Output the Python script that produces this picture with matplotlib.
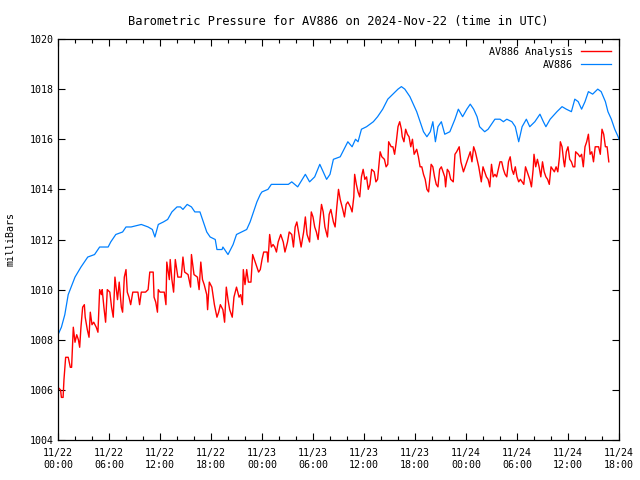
import pandas as pd
import matplotlib
matplotlib.use("Agg")
import matplotlib.pyplot as plt
import matplotlib.dates as mdates

# hours after 2024-11-22 00:00 UTC, pressure in mbar
station_hours = [0.0, 0.4, 0.8, 1.2, 2.0, 2.7, 3.5, 4.3, 4.9, 5.9, 6.2, 6.8, 7.6, 8.0, 8.6, 9.8, 10.6, 11.1,
                 11.4, 11.8, 12.4, 12.9, 13.4, 14.0, 14.4, 14.7, 15.2, 15.7, 16.1, 16.7, 17.1, 17.5, 17.9,
                 18.5, 18.7, 19.3, 19.4, 20.0, 20.6, 21.0, 21.6, 22.2, 22.6, 23.0, 23.4, 23.8, 24.0, 24.7,
                 25.1, 26.3, 27.1, 27.5, 28.2, 29.1, 29.6, 30.2, 30.8, 31.6, 32.0, 32.4, 33.2, 33.5, 34.1,
                 34.6, 35.0, 35.3, 35.7, 36.3, 37.1, 37.6, 38.2, 38.8, 39.4, 40.0, 40.4, 40.8, 41.4, 41.8,
                 42.2, 42.6, 43.0, 43.4, 43.8, 44.1, 44.4, 44.7, 45.1, 45.5, 46.1, 46.7, 47.1, 47.6, 48.1,
                 48.5, 48.9, 49.3, 49.6, 50.2, 50.6, 51.4, 52.0, 52.4, 52.8, 53.4, 53.8, 54.2, 54.6, 55.1,
                 55.5, 56.1, 56.7, 57.1, 57.4, 57.9, 58.7, 59.3, 59.8, 60.4, 60.8, 61.2, 61.6, 62.0, 62.4,
                 62.9, 63.5, 63.9, 64.4, 64.7, 65.1, 65.5, 65.9, 66.0]
station_mbar = [1008.2, 1008.5, 1009.0, 1009.8, 1010.5, 1010.9, 1011.3, 1011.4, 1011.7, 1011.7, 1011.9,
                1012.2, 1012.3, 1012.5, 1012.5, 1012.6, 1012.5, 1012.4, 1012.1, 1012.6, 1012.7, 1012.8,
                1013.1, 1013.3, 1013.3, 1013.2, 1013.4, 1013.3, 1013.1, 1013.1, 1012.7, 1012.3, 1012.1,
                1012.0, 1011.6, 1011.6, 1011.7, 1011.4, 1011.8, 1012.2, 1012.3, 1012.4, 1012.7, 1013.1,
                1013.5, 1013.8, 1013.9, 1014.0, 1014.2, 1014.2, 1014.2, 1014.3, 1014.1, 1014.6, 1014.3,
                1014.5, 1015.0, 1014.4, 1014.6, 1015.2, 1015.3, 1015.5, 1015.9, 1015.7, 1016.0, 1015.9,
                1016.4, 1016.5, 1016.7, 1016.9, 1017.2, 1017.6, 1017.8, 1018.0, 1018.1, 1018.0, 1017.7,
                1017.4, 1017.1, 1016.7, 1016.3, 1016.1, 1016.3, 1016.7, 1015.9, 1016.5, 1016.7, 1016.2,
                1016.3, 1016.8, 1017.2, 1016.9, 1017.2, 1017.4, 1017.2, 1016.9, 1016.5, 1016.3, 1016.4,
                1016.8, 1016.8, 1016.7, 1016.8, 1016.7, 1016.5, 1015.9, 1016.5, 1016.8, 1016.5, 1016.7,
                1017.0, 1016.7, 1016.5, 1016.8, 1017.1, 1017.3, 1017.2, 1017.1, 1017.6, 1017.5, 1017.2,
                1017.5, 1017.9, 1017.8, 1018.0, 1017.9, 1017.5, 1017.1, 1016.8, 1016.4, 1016.1, 1016.0]

analysis_hours = [0.0, 0.3, 0.4, 0.6, 0.7, 0.9, 1.2, 1.45, 1.6, 1.8, 2.0, 2.2, 2.4, 2.55, 2.7, 2.9, 3.1, 3.2,
                  3.45, 3.65, 3.8, 4.0, 4.2, 4.5, 4.7, 4.8, 4.9, 5.1, 5.2, 5.4, 5.6, 5.8, 6.1, 6.3, 6.5, 6.7,
                  7.0, 7.2, 7.45, 7.6, 7.8, 8.0, 8.15, 8.35, 8.55, 8.8, 9.1, 9.4, 9.6, 9.8, 10.3, 10.6, 10.8,
                  11.2, 11.3, 11.5, 11.7, 11.8, 12.0, 12.5, 12.7, 12.8, 13.1, 13.2, 13.4, 13.6, 13.8, 14.1,
                  14.5, 14.7, 14.9, 15.3, 15.6, 15.7, 16.0, 16.4, 16.6, 16.8, 17.0, 17.2, 17.5, 17.6, 17.8,
                  18.1, 18.4, 18.7, 18.9, 19.1, 19.4, 19.6, 19.8, 20.0, 20.2, 20.5, 20.7, 21.0, 21.3, 21.5,
                  21.7, 21.8, 22.0, 22.2, 22.4, 22.7, 22.9, 23.2, 23.4, 23.6, 23.8, 24.0, 24.2, 24.6, 24.7,
                  24.9, 25.1, 25.3, 25.5, 25.7, 25.9, 26.2, 26.5, 26.7, 27.0, 27.2, 27.5, 27.7, 27.9, 28.1,
                  28.3, 28.6, 28.9, 29.1, 29.3, 29.6, 29.8, 30.0, 30.2, 30.4, 30.6, 30.8, 31.0, 31.2, 31.4,
                  31.7, 31.9, 32.1, 32.4, 32.6, 32.8, 33.0, 33.2, 33.5, 33.7, 33.9, 34.1, 34.4, 34.6, 34.8,
                  34.9, 35.1, 35.3, 35.5, 35.7, 35.9, 36.1, 36.3, 36.5, 36.7, 36.9, 37.2, 37.4, 37.6, 37.9,
                  38.1, 38.4, 38.6, 38.8, 38.9, 39.2, 39.4, 39.6, 39.8, 40.0, 40.2, 40.4, 40.5, 40.7, 40.9,
                  41.1, 41.3, 41.5, 41.7, 41.9, 42.2, 42.4, 42.6, 42.8, 43.0, 43.2, 43.4, 43.6, 43.9, 44.1,
                  44.3, 44.5, 44.7, 44.9, 45.1, 45.3, 45.5, 45.6, 45.8, 46.0, 46.2, 46.5, 46.7, 46.9, 47.2,
                  47.4, 47.7, 47.9, 48.2, 48.5, 48.7, 48.9, 49.1, 49.3, 49.5, 49.6, 49.8, 50.0, 50.2, 50.4,
                  50.6, 50.8, 51.0, 51.2, 51.4, 51.6, 51.8, 52.0, 52.2, 52.4, 52.6, 52.8, 53.0, 53.2, 53.4,
                  53.6, 53.8, 54.0, 54.2, 54.4, 54.6, 54.8, 55.0, 55.2, 55.4, 55.5, 55.7, 55.9, 56.0, 56.2,
                  56.4, 56.6, 56.8, 57.0, 57.2, 57.4, 57.6, 57.8, 58.0, 58.2, 58.4, 58.6, 58.8, 59.0, 59.1,
                  59.3, 59.5, 59.6, 59.8, 60.0, 60.2, 60.4, 60.6, 60.8, 60.9, 61.2, 61.4, 61.6, 61.8, 62.0,
                  62.2, 62.4, 62.6, 62.8, 63.0, 63.2, 63.6, 63.8, 64.0, 64.2, 64.4, 64.6, 64.8]
analysis_mbar = [1006.1, 1006.0, 1005.7, 1005.7, 1006.4, 1007.3, 1007.3, 1006.9, 1006.9, 1008.5, 1007.9,
                 1008.2, 1008.0, 1007.7, 1008.5, 1009.3, 1009.4, 1008.9, 1008.4, 1008.1, 1009.1, 1008.6,
                 1008.7, 1008.5, 1008.3, 1009.1, 1010.0, 1009.8, 1010.0, 1009.3, 1008.7, 1010.0, 1009.9,
                 1009.3, 1008.9, 1010.5, 1009.6, 1010.3, 1009.3, 1009.1, 1010.5, 1010.8, 1009.9, 1009.7,
                 1009.4, 1009.9, 1009.9, 1009.9, 1009.4, 1009.9, 1009.9, 1010.0, 1010.7, 1010.7, 1009.7,
                 1009.5, 1009.1, 1010.0, 1009.9, 1009.9, 1009.4, 1011.1, 1010.4, 1011.2, 1010.4, 1009.9,
                 1011.2, 1010.5, 1010.5, 1011.3, 1010.7, 1010.6, 1010.1, 1011.4, 1010.6, 1010.5, 1010.0,
                 1011.1, 1010.4, 1010.2, 1009.8, 1009.2, 1010.3, 1010.1, 1009.4, 1008.9, 1009.1, 1009.4,
                 1009.2, 1008.7, 1010.1, 1009.6, 1009.2, 1008.9, 1009.7, 1010.1, 1009.7, 1009.8, 1009.4,
                 1010.8, 1010.2, 1010.8, 1010.3, 1010.3, 1011.4, 1011.1, 1010.9, 1010.7, 1010.8, 1011.2,
                 1011.5, 1011.5, 1011.1, 1012.2, 1011.7, 1011.8, 1011.7, 1011.5, 1011.9, 1012.2, 1011.9,
                 1011.5, 1011.9, 1012.3, 1012.2, 1011.7, 1012.5, 1012.7, 1012.3, 1011.7, 1012.3, 1012.9,
                 1012.2, 1011.9, 1013.1, 1012.9, 1012.5, 1012.3, 1012.0, 1012.7, 1013.4, 1013.1, 1012.5,
                 1012.1, 1013.0, 1013.2, 1012.7, 1012.5, 1013.3, 1014.0, 1013.6, 1013.2, 1012.9, 1013.4,
                 1013.5, 1013.3, 1013.1, 1013.7, 1014.6, 1014.2, 1013.9, 1013.7, 1014.5, 1014.8, 1014.4,
                 1014.5, 1014.0, 1014.2, 1014.8, 1014.7, 1014.3, 1014.4, 1015.5, 1015.3, 1015.2, 1014.9,
                 1015.0, 1015.9, 1015.7, 1015.7, 1015.4, 1015.9, 1016.5, 1016.7, 1016.4, 1016.1, 1015.9,
                 1016.4, 1016.2, 1016.1, 1015.7, 1016.0, 1015.4, 1015.6, 1015.3, 1014.9, 1014.9, 1014.6,
                 1014.4, 1014.0, 1013.9, 1015.0, 1014.9, 1014.5, 1014.2, 1014.1, 1014.8, 1014.9, 1014.7,
                 1014.5, 1014.1, 1014.8, 1014.7, 1014.4, 1014.3, 1015.4, 1015.5, 1015.7, 1015.1, 1014.7,
                 1014.9, 1015.2, 1015.5, 1015.1, 1015.7, 1015.5, 1015.2, 1014.9, 1014.7, 1014.3, 1014.9,
                 1014.7, 1014.5, 1014.4, 1014.1, 1015.0, 1014.5, 1014.6, 1014.5, 1014.8, 1015.1, 1015.1,
                 1014.8, 1014.6, 1014.5, 1015.1, 1015.3, 1014.8, 1014.6, 1014.9, 1014.5, 1014.3, 1014.4,
                 1014.3, 1014.2, 1014.9, 1014.7, 1014.5, 1014.4, 1014.1, 1014.8, 1015.4, 1014.9, 1015.2,
                 1014.9, 1014.5, 1015.1, 1014.7, 1014.5, 1014.4, 1014.2, 1014.9, 1014.8, 1014.7, 1014.9,
                 1014.7, 1015.3, 1015.9, 1015.7, 1015.1, 1014.9, 1015.5, 1015.7, 1015.2, 1015.1, 1014.9,
                 1014.9, 1015.5, 1015.4, 1015.3, 1015.4, 1014.9, 1015.7, 1015.9, 1016.2, 1015.4, 1015.5,
                 1015.1, 1015.7, 1015.7, 1015.4, 1016.4, 1016.2, 1015.7, 1015.7, 1015.1]

start = pd.Timestamp("2024-11-22 00:00")
station_t = start + pd.to_timedelta(station_hours, unit="h")
analysis_t = start + pd.to_timedelta(analysis_hours, unit="h")

plt.rcParams["font.family"] = ["DejaVu Sans Mono"]
plt.rcParams["font.size"] = 7.2

fig = plt.figure(figsize=(6.4, 4.8), dpi=100)
ax = fig.add_axes([58 / 640, 40 / 480, 561 / 640, 401 / 480])

ax.plot(analysis_t, analysis_mbar, color="#ff0000", lw=1.0, label="AV886 Analysis")
ax.plot(station_t, station_mbar, color="#0080ff", lw=0.9, label="AV886")

ax.set_xlim(start, start + pd.Timedelta(hours=66))
ax.set_ylim(1004, 1020)
ax.set_yticks(range(1004, 1021, 2))
ax.xaxis.set_major_locator(mdates.HourLocator(byhour=[0, 6, 12, 18]))
ax.xaxis.set_minor_locator(mdates.HourLocator(interval=2))
ax.xaxis.set_major_formatter(mdates.DateFormatter("%m/%d\n%H:%M"))

ax.tick_params(which="both", direction="in", top=True, right=True, width=0.8)
ax.tick_params(which="major", length=5)
ax.tick_params(axis="x", which="major", pad=6)
ax.tick_params(axis="y", which="major", pad=3)
ax.tick_params(which="minor", length=3)
for s in ax.spines.values():
    s.set_linewidth(0.9)

ax.set_title("Barometric Pressure for AV886 on 2024-Nov-22 (time in UTC)", pad=10)
ax.set_ylabel("milliBars", labelpad=10)
ax.legend(loc="upper right", frameon=False, markerfirst=False, handlelength=3.0,
          borderaxespad=0.4, labelspacing=0.3, handletextpad=0.8)

fig.savefig("out.png", dpi=100)
